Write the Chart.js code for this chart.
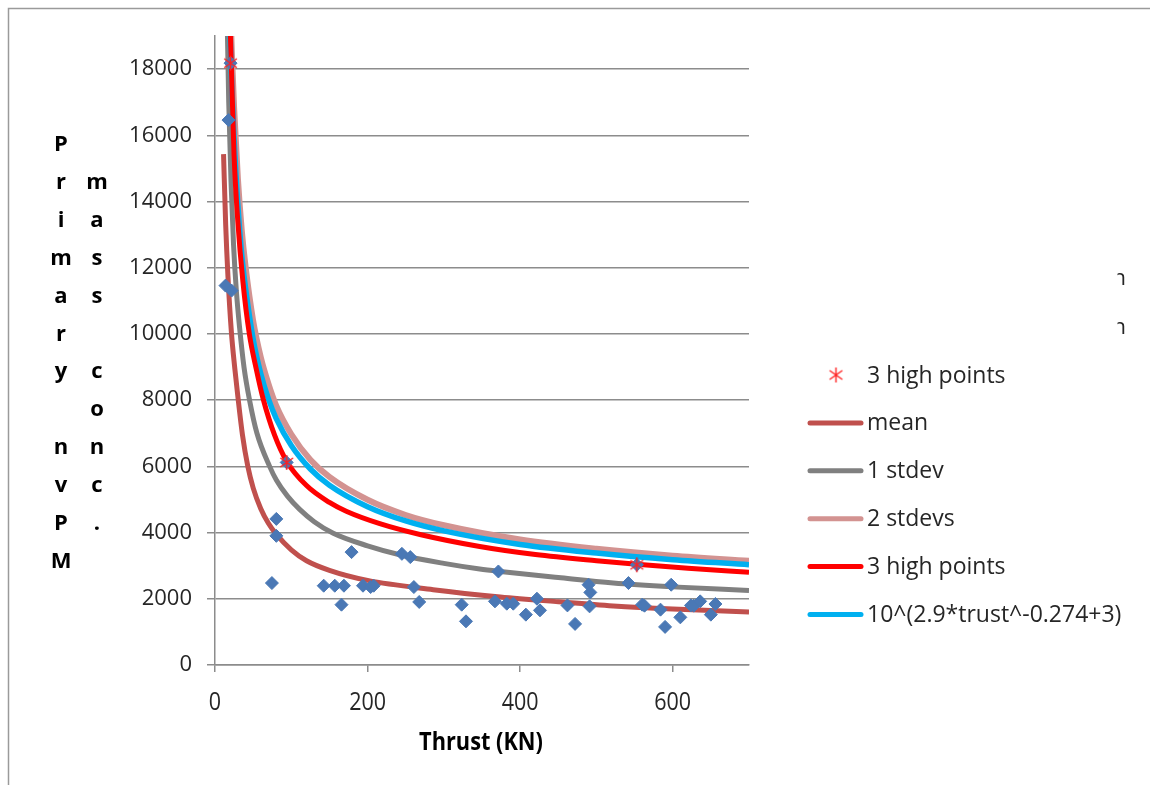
<!DOCTYPE html>
<html>
<head>
<meta charset="utf-8">
<title>Primary nvPM mass conc. vs Thrust</title>
<script src="https://cdn.jsdelivr.net/npm/chart.js@4.4.1/dist/chart.umd.min.js"></script>
<style>
  html, body { margin: 0; padding: 0; background: #fff; }
</style>
</head>
<body>
<canvas id="chart" width="1150" height="785"></canvas>
<script>
// Measured engines: thrust (kN) vs primary nvPM mass conc.
const dataX = [17.7, 13.8, 21.7, 20.4, 94, 553, 80.4, 80.4, 74.6, 142.5, 157, 169, 165.8, 179, 194, 204, 208,
  245, 256, 260.7, 267.7, 323.4, 329, 367, 371.5, 382.5, 391, 407.5, 422, 426, 462, 472, 489.7, 492, 491,
  542, 560, 563, 584, 590, 598, 610, 624, 627.6, 636, 650, 656];
const dataY = [16460, 11460, 11310, 18180, 6120, 3027, 4413, 3901, 2476, 2395, 2395, 2395, 1822, 3410, 2395, 2355, 2395,
  3358, 3259, 2355, 1904, 1822, 1319, 1922, 2825, 1852, 1852, 1521, 2003, 1651, 1801, 1241, 2425, 2193, 1771,
  2476, 1822, 1792, 1672, 1151, 2425, 1440, 1801, 1792, 1922, 1521, 1843];

// 3 high points
const highX = [20.4, 94, 553];
const highY = [18180, 6120, 3027];

// curves
const meanX = [11.2, 14, 17, 21.5, 26, 30, 36, 43, 50, 60, 70, 80, 100, 120, 150, 200, 286, 374, 450, 522, 600, 700];
const meanY = [15430, 13300, 11730, 10050, 8950, 8100, 6950, 6000, 5350, 4720, 4280, 3960, 3480, 3150, 2860, 2555, 2275, 2055, 1910, 1785, 1690, 1600];

const sd1X = [14, 15.5, 18, 21, 24.3, 28, 32.2, 38, 45.3, 55, 71.6, 80.4, 95, 111, 130, 155, 200, 242, 300, 347, 374, 450, 522, 600, 700];
const sd1Y = [22500, 20000, 17000, 14600, 12700, 11300, 10200, 9000, 8000, 7000, 6000, 5590, 5100, 4700, 4330, 3980, 3600, 3330, 3070, 2900, 2825, 2640, 2476, 2360, 2250];

const sd2X = [18, 20, 22, 25, 30, 35, 40, 50, 60, 70, 80, 100, 125, 150, 200, 250, 300, 400, 500, 600, 700];
const sd2Y = [21800, 20000, 18550, 16850, 14700, 13150, 12050, 10400, 9300, 8500, 7850, 6970, 6200, 5680, 4990, 4530, 4220, 3790, 3510, 3300, 3150];

const highFitX = [17, 19, 21.3, 25, 30, 36.5, 45, 54, 63, 78, 94, 120, 150, 172, 216, 270, 347, 420, 500, 553, 620, 700];
const highFitY = [22000, 20000, 18190, 15400, 13370, 11600, 10000, 8950, 8050, 6950, 6150, 5420, 4910, 4645, 4270, 3935, 3580, 3340, 3150, 3040, 2920, 2800];

const powX = [18, 20, 22, 25, 30, 35, 40, 50, 60, 70, 80, 100, 125, 150, 200, 250, 300, 400, 500, 600, 700];
const powY = [20600, 18900, 17500, 15900, 13900, 12400, 11400, 9850, 8800, 8040, 7460, 6630, 5920, 5430, 4780, 4350, 4050, 3640, 3380, 3180, 3030];

// axes
const xTicks = [0, 200, 400, 600];
const yTicks = [0, 2000, 4000, 6000, 8000, 10000, 12000, 14000, 16000, 18000];
const xTitle = "Thrust (KN)";
const yTitleCols = ["Primary nvPM", "mass conc."];

const AXIS = "#8c8c8c";
const TEXT = "#262626";
const BLUE = "#4A78B5";

const pts = (xs, ys) => xs.map((x, i) => ({ x, y: ys[i] }));

// Excel style star marker: X with a vertical bar
function makeStar(size, color) {
  const c = document.createElement("canvas");
  c.width = size; c.height = size;
  const g = c.getContext("2d");
  const m = size / 2, r = size / 2 - 1;
  g.strokeStyle = color;
  g.lineWidth = 1.4;
  g.beginPath();
  g.moveTo(m, m - r); g.lineTo(m, m + r);
  g.moveTo(m - r * 0.85, m - r * 0.6); g.lineTo(m + r * 0.85, m + r * 0.6);
  g.moveTo(m + r * 0.85, m - r * 0.6); g.lineTo(m - r * 0.85, m + r * 0.6);
  g.stroke();
  return c;
}
const star = makeStar(17, "#FF2020");

function curve(label, xs, ys, color, order, width) {
  return {
    label, data: pts(xs, ys), showLine: true, pointRadius: 0, borderColor: color, backgroundColor: color,
    borderWidth: width || 5, cubicInterpolationMode: "monotone", order, legend: true
  };
}

// legend, titles, x tick labels, frame
const decor = {
  id: "decor",
  afterDraw(chart) {
    const { ctx } = chart;
    const xs = chart.scales.x;
    ctx.save();

    // outer frame
    ctx.strokeStyle = "#9a9a9a";
    ctx.lineWidth = 1.5;
    ctx.beginPath();
    ctx.moveTo(8.5, 785); ctx.lineTo(8.5, 8.5); ctx.lineTo(1150, 8.5);
    ctx.stroke();

    // stacked y title
    ctx.fillStyle = "#000";
    ctx.font = "bold 22px 'Open Sans'";
    ctx.textAlign = "center";
    ctx.textBaseline = "alphabetic";
    const colX = [61, 97];
    yTitleCols.forEach((txt, c) => {
      [...txt].forEach((ch, i) => ctx.fillText(ch, colX[c], 151 + (c + i) * 37.9));
    });

    // x tick labels and title, a bit condensed like the original
    ctx.fillStyle = TEXT;
    ctx.font = "25px 'Open Sans'";
    ctx.textBaseline = "middle";
    xTicks.forEach(v => {
      ctx.save();
      ctx.translate(xs.getPixelForValue(v), 703);
      ctx.scale(0.86, 1);
      ctx.fillText(String(v), 0, 0);
      ctx.restore();
    });
    ctx.save();
    ctx.fillStyle = "#000";
    ctx.font = "bold 25px 'Open Sans'";
    ctx.textBaseline = "alphabetic";
    ctx.translate(481, 750);
    ctx.scale(0.87, 1);
    ctx.fillText(xTitle, 0, 0);
    ctx.restore();

    // legend
    ctx.font = "23px 'Open Sans'";
    ctx.textAlign = "left";
    ctx.textBaseline = "middle";
    let row = 0;
    chart.data.datasets.forEach(ds => {
      if (!ds.legend) return;
      const y = 375 + row * 47.9;
      if (ds.showLine) {
        ctx.strokeStyle = ds.borderColor;
        ctx.lineWidth = 5;
        ctx.lineCap = "round";
        ctx.beginPath();
        ctx.moveTo(810, y); ctx.lineTo(861, y);
        ctx.stroke();
      } else {
        ctx.drawImage(star, 836 - star.width / 2, y - star.height / 2);
      }
      ctx.fillStyle = TEXT;
      ctx.fillText(ds.label, 867, y + 1);
      row++;
    });

    // clipped remains of two entries at the right edge
    ctx.save();
    ctx.beginPath();
    ctx.rect(1117.5, 255, 20, 90);
    ctx.clip();
    ctx.textBaseline = "alphabetic";
    ctx.font = "22px 'Open Sans'";
    ctx.fillText("n", 1112.5, 285);
    ctx.fillText("n", 1112.5, 334);
    ctx.restore();

    ctx.restore();
  }
};

Chart.defaults.font.family = "'Open Sans', sans-serif";

new Chart(document.getElementById("chart"), {
  type: "scatter",
  data: {
    datasets: [
      { label: "Data", data: pts(dataX, dataY), pointStyle: "rectRot", pointRadius: 6.5, borderWidth: 1,
        backgroundColor: BLUE, borderColor: BLUE, order: 1 },
      { label: "3 high points", data: pts(highX, highY), pointStyle: star, pointRadius: 8, order: 0, legend: true },
      curve("mean", meanX, meanY, "#C0504D", 7),
      curve("1 stdev", sd1X, sd1Y, "#808080", 6),
      curve("2 stdevs", sd2X, sd2Y, "#D39391", 5, 6),
      curve("3 high points", highFitX, highFitY, "#FF0000", 3),
      curve("10^(2.9*trust^-0.274+3)", powX, powY, "#00B0F0", 4, 5.5)
    ]
  },
  options: {
    responsive: false,
    animation: false,
    layout: { padding: { left: 0, top: 36, right: 401, bottom: 0 } },
    plugins: { legend: { display: false }, tooltip: { enabled: false } },
    scales: {
      x: {
        type: "linear", min: 0, max: 700,
        afterBuildTicks: s => { s.ticks = xTicks.map(v => ({ value: v })); },
        afterFit: s => { s.height = 120; },
        ticks: { display: false },
        grid: { drawOnChartArea: false, tickLength: 7, color: AXIS, lineWidth: 1.5 },
        border: { color: AXIS, width: 1.5 }
      },
      y: {
        min: 0, max: 19000,
        afterBuildTicks: s => { s.ticks = yTicks.map(v => ({ value: v })); },
        afterFit: s => { s.width = 215; },
        ticks: { color: TEXT, padding: 15, font: { size: 22 }, callback: v => String(v) },
        grid: { tickLength: 8, color: AXIS, lineWidth: 1.5 },
        border: { color: AXIS, width: 1.5 }
      }
    }
  },
  plugins: [decor]
});
</script>
</body>
</html>
